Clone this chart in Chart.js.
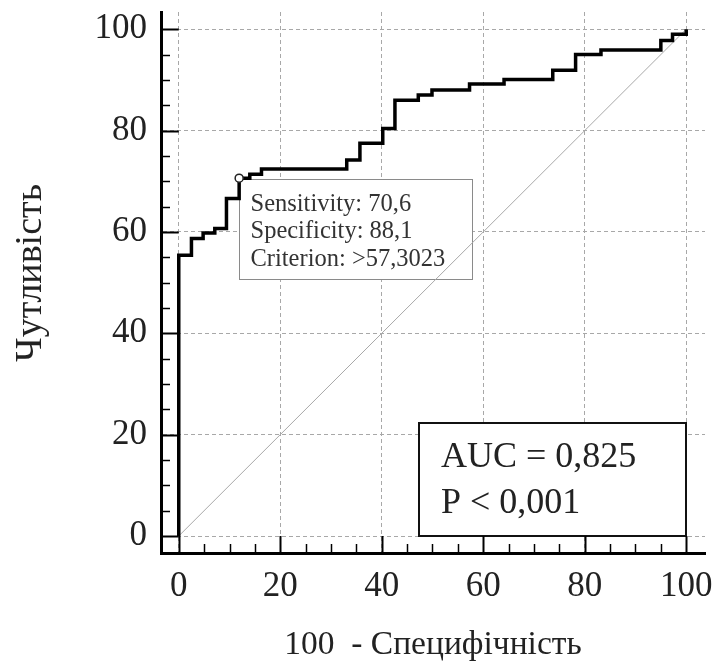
<!DOCTYPE html>
<html>
<head>
<meta charset="utf-8">
<script src="https://cdn.jsdelivr.net/npm/chart.js@4/dist/chart.umd.min.js"></script>
<style>
html,body{margin:0;padding:0;background:#fff;}
canvas{display:block;}
</style>
</head>
<body>
<canvas id="c" width="716" height="666"></canvas>
<script>
// ---- data ----
const rocFalsePositive = [0, 0, 2.5, 4.8, 7.1, 9.4, 11.9, 14.0, 16.3, 33.1, 35.7, 40.2, 42.6, 47.2, 49.9, 57.3, 64.1, 73.7, 78.2, 83.2, 95.0, 97.3, 100];
const rocSensitivity   = [0, 55.4, 58.7, 59.8, 60.7, 66.6, 70.6, 71.4, 72.4, 74.2, 77.5, 80.4, 86.0, 87.0, 88.0, 89.2, 90.1, 91.9, 95.0, 95.9, 97.8, 99.0, 100];
const diagonalX = [0, 100];
const diagonalY = [0, 100];
const criterionSensitivity = 70.6;
const criterionSpecificity = 88.1;
const criterionLines = ['Sensitivity: 70,6', 'Specificity: 88,1', 'Criterion: >57,3023'];
const aucLines = ['AUC = 0,825', 'P < 0,001'];
const xTickValues = [0, 20, 40, 60, 80, 100];
const xTickLabels = ['0', '20', '40', '60', '80', '100'];
const yTickValues = [0, 20, 40, 60, 80, 100];
const yTickLabels = ['0', '20', '40', '60', '80', '100'];
const xAxisTitle = '100  - Специфічність';
const yAxisTitle = 'Чутливість';

const SERIF = "'Liberation Serif', 'Times New Roman', serif";
const TEXT = '#222';

const rocPoints = rocFalsePositive.map((v, i) => ({x: v, y: rocSensitivity[i]}));
const diagPoints = diagonalX.map((v, i) => ({x: v, y: diagonalY[i]}));
const critPoint = [{x: 100 - criterionSpecificity, y: criterionSensitivity}];

const boxesPlugin = {
  id: 'boxes',
  beforeDatasetsDraw(chart) {
    const {ctx, scales: {x, y}} = chart;
    ctx.save();
    // criterion box anchored to the marker
    const px = x.getPixelForValue(100 - criterionSpecificity);
    const py = y.getPixelForValue(criterionSensitivity);
    const bx = Math.round(px) + 0.5, by = Math.round(py) + 1.5, bw = 233, bh = 100;
    ctx.fillStyle = '#fff';
    ctx.fillRect(bx, by, bw, bh);
    ctx.strokeStyle = '#8a8a8a';
    ctx.lineWidth = 1;
    ctx.strokeRect(bx, by, bw, bh);
    ctx.fillStyle = '#333';
    ctx.font = '24.5px ' + SERIF;
    ctx.textBaseline = 'alphabetic';
    ctx.textAlign = 'left';
    criterionLines.forEach((t, i) => ctx.fillText(t, bx + 11, by + 31 + i * 27.5));
    // AUC box anchored to (100, 0)
    const rx = x.getPixelForValue(100), ry = y.getPixelForValue(0);
    const aw = 267, ah = 113;
    const ax = Math.round(rx - aw), ay = Math.round(ry - ah);
    ctx.fillStyle = '#fff';
    ctx.fillRect(ax, ay, aw, ah);
    ctx.strokeStyle = '#111';
    ctx.lineWidth = 2;
    ctx.strokeRect(ax, ay, aw, ah);
    ctx.fillStyle = TEXT;
    ctx.font = '36px ' + SERIF;
    ctx.fillText(aucLines[0], ax + 22, ay + 44);
    ctx.fillText(aucLines[1], ax + 22, ay + 90);
    ctx.restore();
  },
  afterDraw(chart) {
    const {ctx, scales: {x, y}} = chart;
    ctx.save();
    ctx.strokeStyle = '#000';
    const xAxisY = chart.chartArea.bottom;
    const yAxisX = chart.chartArea.left;
    const y0 = y.getPixelForValue(0);
    const x0 = x.getPixelForValue(0);
    for (let v = 0; v <= 100; v += 5) {
      const major = v % 20 === 0;
      ctx.lineWidth = major ? 2 : 1.5;
      const xp = Math.round(x.getPixelForValue(v)) + 0.5;
      ctx.beginPath();
      ctx.moveTo(xp, xAxisY);
      ctx.lineTo(xp, major ? y0 : xAxisY - 9);
      ctx.stroke();
      const yp = Math.round(y.getPixelForValue(v)) + 0.5;
      ctx.beginPath();
      ctx.moveTo(yAxisX, yp);
      ctx.lineTo(major ? x0 : yAxisX + 9, yp);
      ctx.stroke();
    }
    // y axis title
    ctx.fillStyle = TEXT;
    ctx.font = '38px ' + SERIF;
    ctx.textAlign = 'center';
    ctx.textBaseline = 'middle';
    ctx.translate(31, 273);
    ctx.rotate(-Math.PI / 2);
    ctx.fillText(yAxisTitle, 0, 0);
    ctx.restore();
  }
};

new Chart(document.getElementById('c'), {
  type: 'scatter',
  data: {
    datasets: [
      {
        data: diagPoints,
        showLine: true,
        borderColor: '#a8a8a8',
        borderWidth: 1,
        pointRadius: 0,
        order: 3
      },
      {
        data: rocPoints,
        showLine: true,
        stepped: 'before',
        borderColor: '#000',
        borderWidth: 3.5,
        pointRadius: 0,
        order: 2
      },
      {
        data: critPoint,
        showLine: false,
        pointRadius: 4,
        pointBackgroundColor: '#fff',
        pointBorderColor: '#222',
        pointBorderWidth: 1.5,
        order: 1
      }
    ]
  },
  options: {
    responsive: false,
    animation: false,
    devicePixelRatio: 1,
    layout: {padding: {top: 12, right: 11, bottom: 0, left: 0}},
    plugins: {legend: {display: false}, tooltip: {enabled: false}},
    scales: {
      x: {
        type: 'linear',
        min: -3.5,
        max: 103.7,
        afterBuildTicks: s => { s.ticks = xTickValues.map(v => ({value: v})); },
        afterFit: s => { s.height = 113; s.paddingLeft = 0; s.paddingRight = 0; },
        ticks: {
          autoSkip: false,
          maxRotation: 0,
          padding: 13,
          color: TEXT,
          font: {family: SERIF, size: 35},
          callback: v => xTickLabels[xTickValues.indexOf(v)]
        },
        grid: {color: '#a8a8a8', lineWidth: 1, drawTicks: false},
        border: {display: true, color: '#000', width: 3, dash: [4, 3]},
        title: {display: true, text: xAxisTitle, color: TEXT, font: {family: SERIF, size: 33.5}, padding: {top: 0, bottom: 1}}
      },
      y: {
        type: 'linear',
        min: -3.35,
        max: 103.4,
        afterBuildTicks: s => { s.ticks = yTickValues.map(v => ({value: v})); },
        afterFit: s => { s.width = 161; s.paddingTop = 0; s.paddingBottom = 0; },
        ticks: {
          autoSkip: false,
          padding: 14,
          color: TEXT,
          font: {family: SERIF, size: 35},
          callback: v => yTickLabels[yTickValues.indexOf(v)]
        },
        grid: {color: '#a8a8a8', lineWidth: 1, drawTicks: false},
        border: {display: true, color: '#000', width: 3, dash: [4, 3]},
        title: {display: false}
      }
    }
  },
  plugins: [boxesPlugin]
});
</script>
</body>
</html>
